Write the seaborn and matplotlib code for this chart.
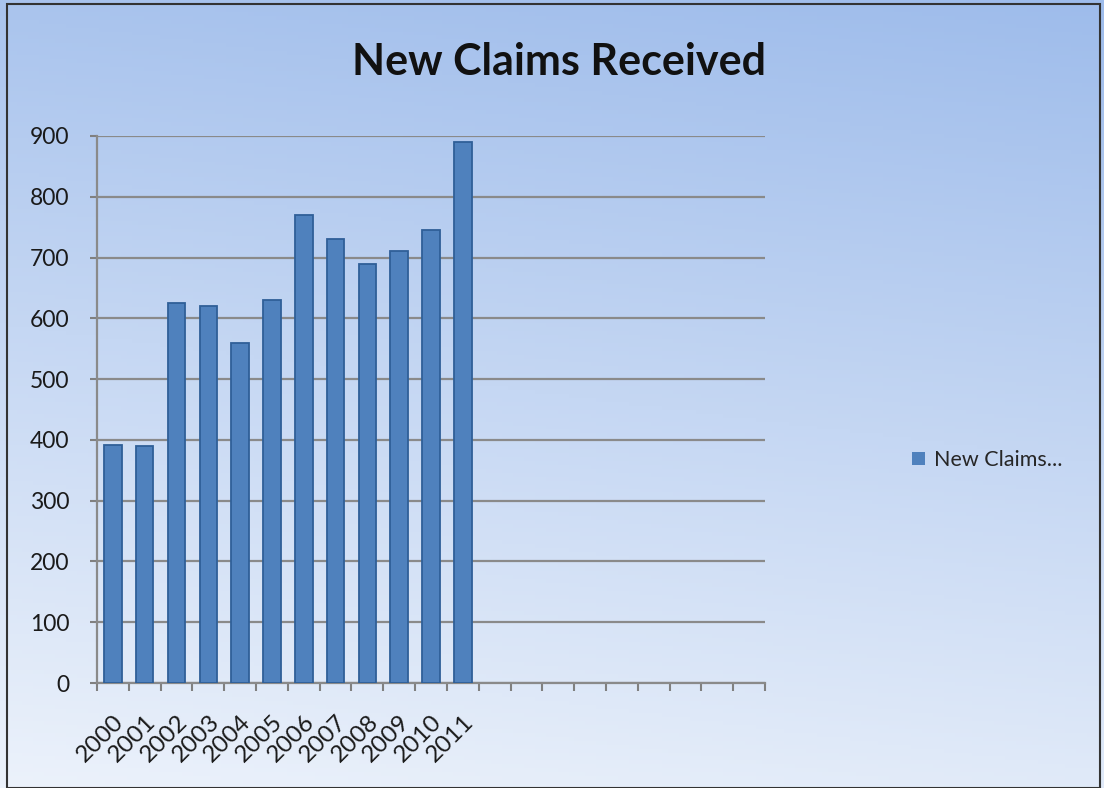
import numpy as np
import pandas as pd
import matplotlib
matplotlib.use("Agg")
import matplotlib.pyplot as plt
import seaborn as sns

years = ["2000", "2001", "2002", "2003", "2004", "2005",
         "2006", "2007", "2008", "2009", "2010", "2011"]
claims = [392, 390, 625, 620, 560, 630, 770, 730, 690, 710, 745, 890]
empty_slots = 9
y_ticks = [0, 100, 200, 300, 400, 500, 600, 700, 800, 900]
title = "New Claims Received"
series_name = "New Claims..."

sns.set_theme(style="white")
plt.rcParams['font.family'] = ['Lato', 'DejaVu Sans']

W, H = 1104, 788
fig = plt.figure(figsize=(W / 100, H / 100), dpi=100)

# gradient background
bg = fig.add_axes([0, 0, 1, 1], zorder=-10)
yy, xx = np.mgrid[0:1:200j, 0:1:200j]
t = np.clip(0.85 * yy + 0.15 * (1 - xx), 0, 1)
top = np.array([158, 188, 235]) / 255
bot = np.array([236, 242, 251]) / 255
img = top[None, None, :] * (1 - t[..., None]) + bot[None, None, :] * t[..., None]
bg.imshow(img, aspect='auto', extent=[0, 1, 0, 1], origin='upper')
bg.set_axis_off()
bg.add_patch(plt.Rectangle((0.006, 0.0), 0.99, 0.995, fill=False,
                           edgecolor='#333333', lw=1.5, transform=bg.transAxes))

df = pd.DataFrame({"year": years, "claims": claims})
order = years + [" " * (k + 1) for k in range(empty_slots)]

ax_left, ax_right = 97 / W, 765 / W
ax_bottom, ax_top = 1 - 683 / H, 1 - 136 / H
ax = fig.add_axes([ax_left, ax_bottom, ax_right - ax_left, ax_top - ax_bottom])
ax.patch.set_alpha(0)

sns.barplot(data=df, x="year", y="claims", order=order, color="#4f81bd",
            width=0.55, edgecolor="#2f5f98", linewidth=1.3, saturation=1,
            ax=ax, zorder=3)

ax.set_ylim(0, 900)
ax.set_xlim(-0.5, len(order) - 0.5)
ax.set_yticks(y_ticks)
ax.set_yticklabels([str(v) for v in y_ticks], fontsize=16.5, color='#1a1a1a')
ax.set_xticks(range(len(order)))
ax.set_xticklabels(years + [""] * empty_slots, rotation=45, ha='right',
                   rotation_mode='anchor', fontsize=17.5, color='#1a1a1a')
ax.set_xticks(np.arange(-0.5, len(order), 1), minor=True)
ax.tick_params(axis='x', which='major', length=0, pad=20)
ax.tick_params(axis='x', which='minor', length=6, width=1.5, color='#808080',
               direction='out', bottom=True)
ax.tick_params(axis='y', length=5, width=1.5, color='#808080', direction='out',
               left=True, pad=15)
ax.yaxis.grid(True, color='#8a8a8a', lw=1.6, zorder=0)
ax.set_axisbelow(True)
for s in ['top', 'right']:
    ax.spines[s].set_visible(False)
for s in ['left', 'bottom']:
    ax.spines[s].set_color('#8a8a8a')
    ax.spines[s].set_linewidth(1.6)
ax.set_xlabel("")
ax.set_ylabel("")

fig.text(559 / W, 1 - 62 / H, title, ha='center', va='center',
         fontsize=31, fontweight='bold', color='#111111')

handle = plt.Rectangle((0, 0), 1, 1, facecolor="#4f81bd", edgecolor='none')
fig.legend([handle], [series_name], loc='center left',
           bbox_to_anchor=(893 / W, 1 - 460 / H), frameon=False,
           fontsize=15.5, handlelength=0.6, handleheight=0.6, handletextpad=0.4)

fig.savefig("out.png", dpi=100)
